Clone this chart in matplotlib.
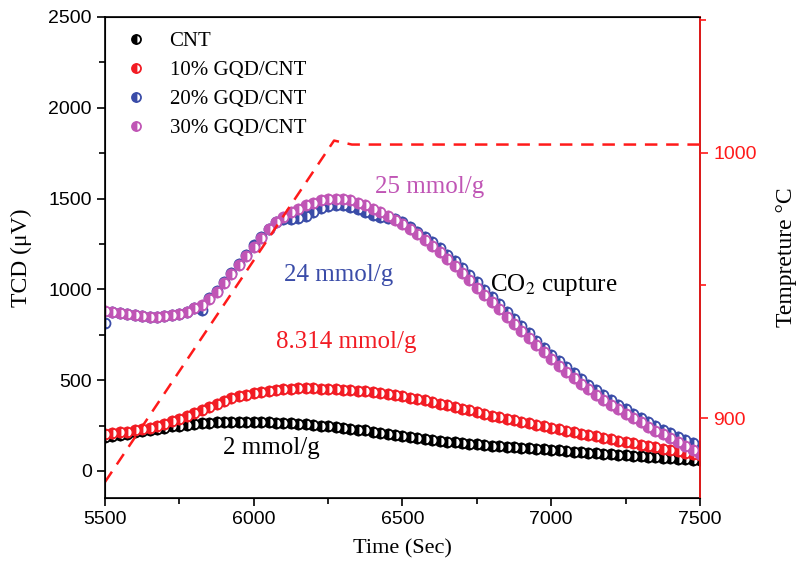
import numpy as np
import matplotlib
matplotlib.use("Agg")
import matplotlib.pyplot as plt
from matplotlib.ticker import MultipleLocator

# sampling times (sec)
time = np.arange(5500, 7501, 25)

cnt = [185, 190, 197, 204, 212, 219, 226, 233, 239, 245, 250, 254, 258, 262, 265, 267,
       268, 269, 270, 270, 270, 269, 268, 266, 264, 262, 259, 257, 254, 250, 246, 242,
       238, 233, 228, 223, 217, 211, 204, 198, 192, 186, 180, 175, 170, 166, 162, 158,
       154, 150, 146, 143, 140, 137, 134, 131, 128, 125, 122, 119, 116, 113, 110, 107,
       104, 101, 98, 95, 92, 89, 86, 83, 80, 77, 75, 72, 70, 67, 65, 62, 60]

gqd10 = [205, 208, 212, 217, 223, 230, 238, 248, 260, 273, 288, 304, 320, 337, 354, 370,
         385, 399, 411, 421, 430, 437, 443, 448, 451, 453, 455, 455, 455, 454, 452, 450,
         448, 445, 442, 439, 435, 430, 425, 419, 412, 404, 396, 388, 380, 371, 361, 352,
         342, 333, 323, 314, 305, 296, 287, 278, 270, 262, 254, 246, 238, 230, 222, 213,
         205, 197, 190, 182, 175, 167, 160, 152, 145, 137, 130, 122, 115, 108, 101, 94, 88]

gqd20 = [815, 875, 868, 862, 857, 853, 850, 850, 852, 858, 866, 878, 895, 885, 950, 992,
         1042, 1092, 1142, 1192, 1242, 1290, 1335, 1370, 1385, 1390, 1392, 1402, 1425, 1447,
         1460, 1465, 1462, 1453, 1440, 1427, 1412, 1400, 1392, 1388, 1372, 1345, 1318, 1290,
         1260, 1226, 1190, 1155, 1118, 1078, 1038, 998, 958, 918, 878, 838, 798, 758, 718,
         679, 640, 605, 570, 537, 505, 475, 445, 417, 390, 364, 339, 315, 292, 270, 249,
         228, 208, 189, 170, 152, 135]

gqd30 = [880, 875, 868, 862, 857, 853, 850, 850, 852, 858, 866, 878, 895, 915, 945, 985,
         1035, 1085, 1135, 1185, 1235, 1285, 1335, 1370, 1400, 1425, 1445, 1462, 1478, 1490,
         1497, 1500, 1497, 1490, 1478, 1462, 1445, 1425, 1405, 1383, 1360, 1332, 1303, 1272,
         1240, 1204, 1167, 1129, 1090, 1050, 1010, 970, 930, 890, 850, 810, 770, 731, 692,
         653, 615, 580, 545, 512, 480, 450, 420, 392, 365, 339, 314, 290, 267, 244, 222,
         201, 180, 160, 140, 118, 95]

# temperature program
temp_time = [5500, 6270, 6330, 7500]
temp_val = [876, 1004.5, 1003, 1003]

labels = ['CNT', '10% GQD/CNT', '20% GQD/CNT', '30% GQD/CNT']
colors = ['black', '#f21c24', '#3a4ca8', '#c055b5']

serif = 'Liberation Serif'
sans = 'Liberation Sans'

fig = plt.figure(figsize=(7.97, 5.74), dpi=100)
ax = fig.add_axes([0.1317, 0.1324, 0.7466, 0.838])

for ys, c, lab in zip([cnt, gqd10, gqd20, gqd30], colors, labels):
    ax.plot(time, ys, linestyle='none', marker='o', markersize=7.2,
            fillstyle='left', color=c, markerfacecoloralt='white',
            markeredgecolor=c, markeredgewidth=1.3, label=lab)

ax.set_xlim(5500, 7500)
ax.set_ylim(-149, 2500)
ax.xaxis.set_major_locator(MultipleLocator(500))
ax.xaxis.set_minor_locator(MultipleLocator(250))
ax.yaxis.set_major_locator(MultipleLocator(500))
ax.yaxis.set_minor_locator(MultipleLocator(250))
ax.tick_params(which='major', direction='out', length=6, width=1.2, labelsize=14)
ax.tick_params(which='minor', direction='out', length=4, width=1.2)
for lbl in ax.get_xticklabels() + ax.get_yticklabels():
    lbl.set_fontfamily(sans)
for s in ax.spines.values():
    s.set_linewidth(1.2)
ax.set_xlabel('Time (Sec)', fontsize=16, fontfamily=serif, labelpad=8)
ax.set_ylabel('TCD (\u03bcV)', fontsize=17, fontfamily=serif, labelpad=12)

leg = ax.legend(loc='upper left', frameon=False, prop={'family': serif, 'size': 15},
                handletextpad=0.8, labelspacing=0.45, borderaxespad=0.3,
                bbox_to_anchor=(0.0, 1.0), handlelength=1.6, markerscale=0.9)

ann = dict(fontsize=18, fontfamily=serif, ha='center', va='center')
ax.text(6592, 1564, '25 mmol/g', color=colors[3], **ann)
ax.text(6287, 1079, '24 mmol/g', color=colors[2], **ann)
ax.text(6310, 710, '8.314 mmol/g', color=colors[1], **ann)
ax.text(6061, 127, '2 mmol/g', color='black', **ann)
ax.text(6794, 1024, 'CO$_2$ cupture', color='black', fontsize=18, fontfamily=serif,
        ha='left', va='center', math_fontfamily='stix')

ax2 = ax.twinx()
ax2.plot(temp_time, temp_val, color='#ff1a1a', linestyle=(0, (5, 3.5)), linewidth=1.8)
ax2.set_ylim(870, 1051)
ax2.yaxis.set_major_locator(MultipleLocator(100))
ax2.yaxis.set_minor_locator(MultipleLocator(50))
ax2.spines['right'].set_color('#ff1a1a')
ax2.spines['right'].set_linewidth(1.2)
ax2.tick_params(axis='y', which='major', colors='#ff1a1a', direction='out', length=6,
                width=1.2, labelsize=14)
ax2.tick_params(axis='y', which='minor', colors='#ff1a1a', direction='out', length=4,
                width=1.2)
for lbl in ax2.get_yticklabels():
    lbl.set_fontfamily(sans)
ax2.set_ylabel('Tempreture \u00b0C', fontsize=17, fontfamily=serif, labelpad=14)

fig.savefig('out.png', dpi=100)
